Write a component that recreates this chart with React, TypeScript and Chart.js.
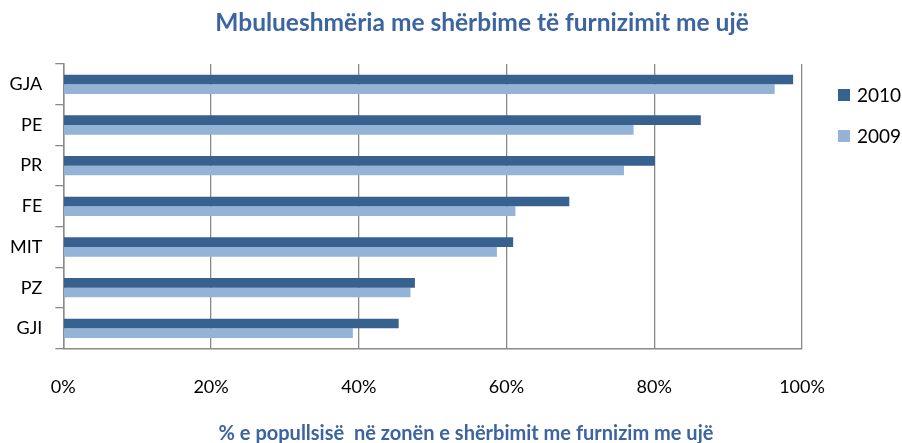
import React, { useEffect, useRef } from "react";
import { Chart, registerables } from "chart.js";

Chart.register(...registerables);

const categories = ["GJA", "PE", "PR", "FE", "MIT", "PZ", "GJI"];
const values2010 = [98.8, 86.3, 80.1, 68.5, 60.9, 47.6, 45.4];
const values2009 = [96.3, 77.2, 75.9, 61.2, 58.7, 47.0, 39.2];
const seriesNames = ["2010", "2009"];
const xTicks = [0, 20, 40, 60, 80, 100];
const chartTitle = "Mbulueshmëria me shërbime të furnizimit me ujë";
const xAxisTitle = "% e popullsisë  në zonën e shërbimit me furnizim me ujë";

const FONT = "Lato, 'Open Sans', sans-serif";

const textPlugin = {
  id: "customText",
  afterDraw(chart: any) {
    const ctx = chart.ctx;
    const ca = chart.chartArea;
    ctx.save();
    // title
    ctx.fillStyle = "#3B64A0";
    ctx.font = `bold 24.5px ${FONT}`;
    ctx.textAlign = "center";
    ctx.textBaseline = "alphabetic";
    ctx.fillText(chartTitle, 482, 31);
    // x axis title
    ctx.font = `bold 20px ${FONT}`;
    ctx.fillText(xAxisTitle, 466, 440);
    // legend
    ctx.font = `19px ${FONT}`;
    ctx.textAlign = "left";
    ctx.textBaseline = "middle";
    chart.data.datasets.forEach((ds: any, i: number) => {
      const cy = ca.top + 31 + i * 41;
      const x0 = ca.right + 36;
      ctx.fillStyle = ds.backgroundColor;
      ctx.fillRect(x0, cy - 6, 12, 12);
      ctx.fillStyle = "#000000";
      ctx.fillText(ds.label, x0 + 19, cy + 1);
    });
    ctx.restore();
  },
};

export default function App() {
  const ref = useRef<HTMLCanvasElement | null>(null);
  useEffect(() => {
    document.body.style.margin = "0";
    if (!ref.current) return;
    const chart = new Chart(ref.current, {
      type: "bar",
      data: {
        labels: categories,
        datasets: [
          {
            label: seriesNames[0],
            data: values2010,
            backgroundColor: "#37618F",
            borderWidth: 0,
            categoryPercentage: 0.475,
            barPercentage: 1,
          },
          {
            label: seriesNames[1],
            data: values2009,
            backgroundColor: "#95B3D7",
            borderWidth: 0,
            categoryPercentage: 0.475,
            barPercentage: 1,
          },
        ],
      },
      options: {
        indexAxis: "y",
        animation: false,
        responsive: false,
        devicePixelRatio: 1,
        layout: { padding: { top: 64, right: 100, left: 0, bottom: 0 } },
        plugins: {
          legend: { display: false },
          title: { display: false },
          tooltip: { enabled: false },
        },
        scales: {
          x: {
            min: 0,
            max: 100,
            afterBuildTicks: (scale: any) => {
              scale.ticks = xTicks.map((v) => ({ value: v }));
            },
            afterFit: (scale: any) => {
              scale.height = 94.3;
            },
            ticks: {
              padding: 28,
              color: "#000000",
              font: { family: FONT, size: 18 },
              callback: (v: any) => `${v}%`,
            },
            grid: {
              color: "#8A8A8A",
              lineWidth: 1.3,
              drawTicks: false,
            },
            border: { display: true, color: "#8A8A8A", width: 1.5 },
          },
          y: {
            afterFit: (scale: any) => {
              scale.width = 63.3;
            },
            ticks: {
              padding: 13,
              color: "#000000",
              font: { family: FONT, size: 18 },
            },
            grid: {
              offset: true,
              drawOnChartArea: false,
              drawTicks: true,
              tickLength: 8,
              color: "#8A8A8A",
              lineWidth: 1.3,
            },
            border: { display: true, color: "#8A8A8A", width: 1.5 },
          },
        },
      },
      plugins: [textPlugin],
    });
    return () => chart.destroy();
  }, []);
  return (
    <div style={{ width: 902, height: 443 }}>
      <canvas ref={ref} width={902} height={443} style={{ width: 902, height: 443 }} />
    </div>
  );
}
